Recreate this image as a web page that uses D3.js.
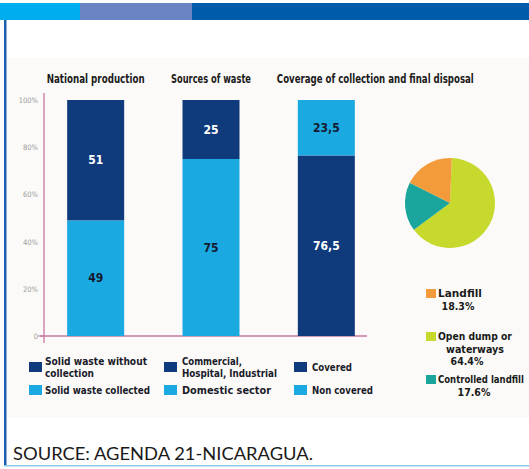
<!DOCTYPE html>
<html><head><meta charset="utf-8">
<script src="https://cdn.jsdelivr.net/npm/d3@7"></script>
<style>
html,body{margin:0;padding:0;background:#fff;}
svg{display:block;}
.cond{font-family:"Liberation Sans Narrow","DejaVu Sans Condensed","Roboto Condensed",sans-serif;font-weight:bold;}
</style></head>
<body>
<script>
// ---- data ----
const panels = ["National production", "Sources of waste", "Coverage of collection and final disposal"];
const bottomValues = [49, 75, 76.5];
const topValues = [51, 25, 23.5];
const bottomLabels = ["49", "75", "76,5"];
const topLabels = ["51", "25", "23,5"];
const bottomIsDark = [false, false, true];
const yTicks = [0, 20, 40, 60, 80, 100];
const yTickLabels = ["0", "20%", "40%", "60%", "80%", "100%"];
const legendTop = [["Solid waste without", "collection"], ["Commercial,", "Hospital, Industrial"], ["Covered"]];
const legendBottom = ["Solid waste collected", "Domestic sector", "Non covered"];
const pieNames = ["Open dump or waterways", "Controlled landfill", "Landfill"];
const pieValues = [64.4, 17.6, 18.3];
const pieLegendNames = [["Landfill"], ["Open dump or", "waterways"], ["Controlled landfill"]];
const pieLegendValues = ["18.3%", "64.4%", "17.6%"];
const pieLegendColorIdx = [2, 0, 1];
const sourceText = "SOURCE: AGENDA 21-NICARAGUA.";

const W = 529, H = 469;
const DARK = "#0f3a7c", LIGHT = "#1ba9e1";
const pieColors = ["#c6d92c", "#1aa69c", "#f39b3b"];

const svg = d3.select("body").append("svg").attr("width", W).attr("height", H);

// header stripes
svg.append("rect").attr("x",0).attr("y",3).attr("width",80).attr("height",17).attr("fill","#00aeef");
svg.append("rect").attr("x",80).attr("y",3).attr("width",112).attr("height",17).attr("fill","#6b84c3");
svg.append("rect").attr("x",192).attr("y",3).attr("width",W-192).attr("height",17).attr("fill","#005baa");
// frame
svg.append("rect").attr("x",4).attr("y",20).attr("width",2.5).attr("height",446).attr("fill","#1a5fb0");
svg.append("rect").attr("x",4).attr("y",465).attr("width",W-4).attr("height",1.5).attr("fill","#8fc8ea");
// faint panel background
svg.append("rect").attr("x",7).attr("y",58).attr("width",W-7).attr("height",360).attr("fill","#fbfaf8");

// scales
const y = d3.scaleLinear().domain([0,100]).range([336,100]);
const x = d3.scalePoint().domain(panels).range([38,384]).padding(0.5);
const bw = 57;

// axis
const axis = svg.append("g").attr("transform","translate(44,0)")
  .call(d3.axisLeft(y).tickValues(yTicks).tickFormat((d,i)=>yTickLabels[i]).tickSize(0).tickPadding(6));
axis.select(".domain").remove();
axis.selectAll("text").attr("fill","#9a9a9a").style("font-family","'Liberation Sans Narrow','DejaVu Sans Condensed',sans-serif").style("font-size","7.5px");
svg.append("line").attr("x1",38).attr("x2",44).attr("y1",y(0)).attr("y2",y(0)).attr("stroke","#c9789f").attr("stroke-width",1);
svg.append("line").attr("x1",44).attr("x2",44).attr("y1",93).attr("y2",343).attr("stroke","#c9789f").attr("stroke-width",1.3);
svg.append("line").attr("x1",40).attr("x2",367).attr("y1",y(0)).attr("y2",y(0)).attr("stroke","#c9789f").attr("stroke-width",1.3);

// titles
const titleWidths = [98, 80, 197];
svg.selectAll(".title").data(panels).join("text").attr("class","cond")
  .attr("x",d=>x(d) + (d===panels[2] ? 49 : 0)).attr("y",83).attr("text-anchor","middle")
  .attr("font-size",12).attr("fill","#1b1b1b")
  .attr("textLength",(d,i)=>titleWidths[i]).attr("lengthAdjust","spacingAndGlyphs")
  .text(d=>d);

// bars
panels.forEach((p,i)=>{
  const cx = x(p);
  const bDark = bottomIsDark[i];
  svg.append("rect").attr("x",cx-bw/2).attr("y",y(bottomValues[i])).attr("width",bw)
    .attr("height",y(0)-y(bottomValues[i])).attr("fill",bDark?DARK:LIGHT);
  svg.append("rect").attr("x",cx-bw/2).attr("y",y(bottomValues[i]+topValues[i])).attr("width",bw)
    .attr("height",y(bottomValues[i])-y(bottomValues[i]+topValues[i])).attr("fill",bDark?LIGHT:DARK);
  svg.append("text").attr("class","cond").attr("x",cx).attr("y",(y(0)+y(bottomValues[i]))/2+4)
    .attr("text-anchor","middle").attr("font-size",12).attr("fill",bDark?"#ffffff":"#151a30").text(bottomLabels[i]);
  svg.append("text").attr("class","cond").attr("x",cx).attr("y",(y(bottomValues[i])+y(bottomValues[i]+topValues[i]))/2+4)
    .attr("text-anchor","middle").attr("font-size",12).attr("fill",bDark?"#151a30":"#ffffff").text(topLabels[i]);
});

// bar legends
const legX = [29, 164, 294];
const txtOff = [16, 18, 18];
const topW = [[102,49],[60,95],[40]];
const botW = [105, 89, 61];
panels.forEach((p,i)=>{
  const lx = legX[i];
  const oneLine = legendTop[i].length===1;
  svg.append("rect").attr("x",lx).attr("y",362).attr("width",13).attr("height",10).attr("fill",DARK);
  legendTop[i].forEach((t,j)=>{
    svg.append("text").attr("class","cond").attr("x",lx+txtOff[i]).attr("y",oneLine?371:365+j*12)
      .attr("font-size",11).attr("fill","#1a1a2a")
      .attr("textLength",topW[i][j]).attr("lengthAdjust","spacingAndGlyphs").text(t);
  });
  svg.append("rect").attr("x",lx).attr("y",385).attr("width",13).attr("height",10).attr("fill",LIGHT);
  svg.append("text").attr("class","cond").attr("x",lx+txtOff[i]).attr("y",394)
    .attr("font-size",11).attr("fill","#1a1a2a")
    .attr("textLength",botW[i]).attr("lengthAdjust","spacingAndGlyphs").text(legendBottom[i]);
});

// pie
const pie = d3.pie().sort(null).value(d=>d).startAngle(0.04).endAngle(0.04+2*Math.PI);
const arc = d3.arc().innerRadius(0).outerRadius(45);
svg.append("g").attr("transform","translate(450,203)")
  .selectAll("path").data(pie(pieValues)).join("path")
  .attr("d",arc).attr("fill",(d,i)=>pieColors[i]);

// pie legend (texts horizontally compressed to target widths)
const pieLegY = [289, 332, 375];
const pieNameW = [[44],[74,58],[86]];
const pieNameCx = [[459],[475,475],[483]];
const pieValCx = [458, 467, 474];
function fitText(x0, y0, anchor, str, target, size){
  const g = svg.append("g");
  const t = g.append("text").attr("class","cond").attr("font-size",size).attr("fill","#1a1a1a")
    .attr("text-anchor",anchor).text(str);
  const nat = t.node().getComputedTextLength();
  const s = target ? Math.min(1.3, target/nat) : 1;
  g.attr("transform",`translate(${x0},${y0}) scale(${s},1)`);
}
pieLegendNames.forEach((lines,k)=>{
  const ly = pieLegY[k];
  svg.append("rect").attr("x",426).attr("y",ly).attr("width",10).attr("height",9).attr("fill",pieColors[pieLegendColorIdx[k]]);
  lines.forEach((t,j)=>{
    fitText(j===0?438:pieNameCx[k][j], ly+8+j*12.5, j===0?"start":"middle", t, pieNameW[k][j], 10.5);
  });
  fitText(pieValCx[k], ly+8+lines.length*12.5, "middle", pieLegendValues[k], null, 10.5);
});

// source
svg.append("text").attr("x",13).attr("y",460)
  .style("font-family","Lato, 'Open Sans', sans-serif").attr("font-size",17.5).attr("fill","#1a1a1a")
  .attr("textLength",300).attr("lengthAdjust","spacingAndGlyphs").text(sourceText);
</script>
</body></html>
